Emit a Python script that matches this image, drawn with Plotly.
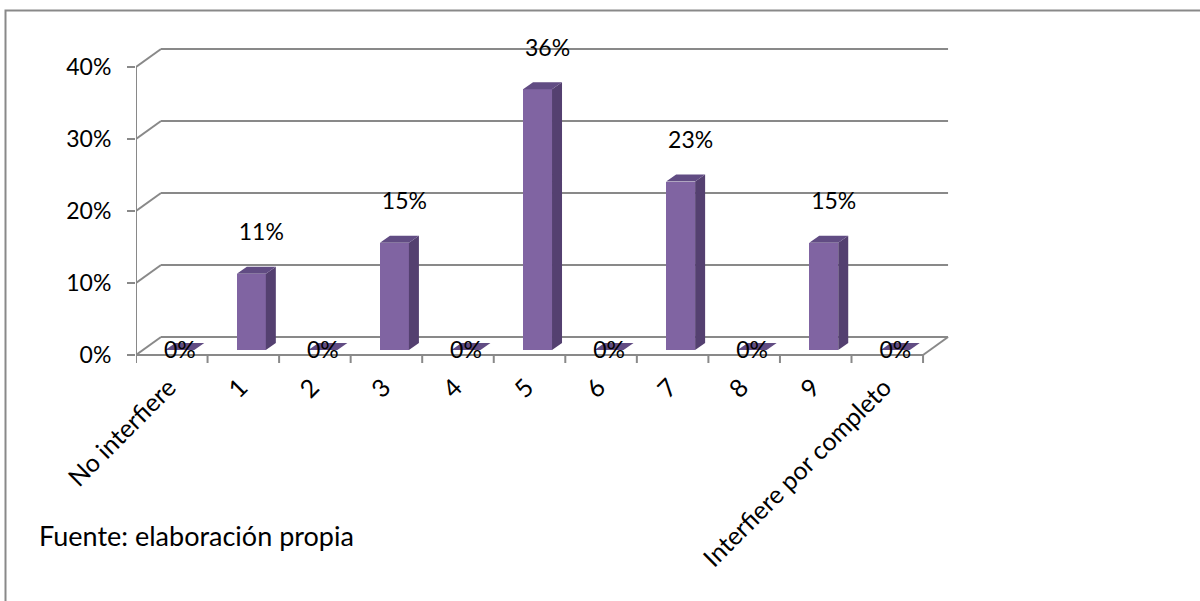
import plotly.graph_objects as go

# ---------------- data ----------------
categories = ["No interfiere", "1", "2", "3", "4", "5", "6", "7", "8", "9",
              "Interfiere por completo"]
shares = [0.0, 0.106, 0.0, 0.149, 0.0, 0.362, 0.0, 0.234, 0.0, 0.149, 0.0]
y_ticks = [0.0, 0.1, 0.2, 0.3, 0.4]
y_tick_labels = ["0%", "10%", "20%", "30%", "40%"]
source_note = "Fuente: elaboración propia"

# ---------------- geometry (pixels -> data units) ----------------
W, H = 1200, 601
L, R, T, B = 136, 1000, 30, 367          # plot area in pixels
PX_X = 71.55                              # pixels per category
PX_V = 720.0                              # pixels per unit share
FLOOR_PX = 355                            # pixel row of value 0 on front plane

def dx(px):
    return px / PX_X

def dv(px):
    return px / PX_V

x_range = [-0.5, -0.5 + dx(R - L)]
y_range = [-dv(B - FLOOR_PX), dv(FLOOR_PX - T)]

DEPTH_X, DEPTH_V = dx(25), dv(18)         # full depth of the 3D box
BAR_OFF_X, BAR_OFF_V = dx(8), dv(5)       # bar front plane offset
BAR_W = dx(29)
BAR_DX, BAR_DV = dx(10), dv(7)            # bar depth

GRID = "#898989"
PURPLE = "#8064A2"
TOP = "#614C83"
SIDE = "#544070"
FONT = "Lato"
FS = 23

fig = go.Figure()

n = len(categories)
xc = [i + BAR_OFF_X for i in range(n)]

# front faces
fig.add_trace(go.Bar(
    x=xc, y=shares, base=[BAR_OFF_V] * n, width=BAR_W,
    marker=dict(color=PURPLE, line=dict(width=0)),
    hoverinfo="skip", showlegend=False))

# side and top faces
sx, sy, tx, ty = [], [], [], []
for i, v in enumerate(shares):
    xl = xc[i] - BAR_W / 2
    xr = xc[i] + BAR_W / 2
    yb = BAR_OFF_V
    yt = BAR_OFF_V + v
    if v > 0:
        sx += [xr, xr + BAR_DX, xr + BAR_DX, xr, xr, None]
        sy += [yb, yb + BAR_DV, yt + BAR_DV, yt, yb, None]
    tx += [xl, xr, xr + BAR_DX, xl + BAR_DX, xl, None]
    ty += [yt, yt, yt + BAR_DV, yt + BAR_DV, yt, None]

fig.add_trace(go.Scatter(x=sx, y=sy, mode="lines", fill="toself",
                         fillcolor=SIDE, line=dict(width=0),
                         hoverinfo="skip", showlegend=False))
fig.add_trace(go.Scatter(x=tx, y=ty, mode="lines", fill="toself",
                         fillcolor=TOP, line=dict(width=0),
                         hoverinfo="skip", showlegend=False))

# data labels
lx, ly, lt = [], [], []
for i, v in enumerate(shares):
    lt.append(f"{round(v * 100)}%")
    if v > 0:
        lx.append(xc[i] + dx(10))
        ly.append(BAR_OFF_V + v + dv(39))
    else:
        lx.append(xc[i])
        ly.append(BAR_OFF_V - dv(2))
fig.add_trace(go.Scatter(x=lx, y=ly, mode="text", text=lt,
                         textposition="middle center",
                         textfont=dict(family=FONT, size=FS, color="#000000"),
                         cliponaxis=False, hoverinfo="skip", showlegend=False))

# ---------------- 3D frame (shapes, behind traces) ----------------
shapes = []
def seg(x0, y0, x1, y1):
    shapes.append(dict(type="line", xref="x", yref="y", x0=x0, y0=y0,
                       x1=x1, y1=y1, layer="below",
                       line=dict(color=GRID, width=2)))

x_lo, x_hi = -0.5, n - 0.5
for v in y_ticks:
    # back wall gridline
    seg(x_lo + DEPTH_X, v + DEPTH_V, x_hi + DEPTH_X, v + DEPTH_V)
    # left wall diagonal
    seg(x_lo, v, x_lo + DEPTH_X, v + DEPTH_V)
# front vertical axis
seg(x_lo, 0, x_lo, y_ticks[-1])
# front floor edge
seg(x_lo, 0, x_hi, 0)
# right floor edge
seg(x_hi, 0, x_hi + DEPTH_X, DEPTH_V)
# x tick marks at category boundaries
for k in range(n + 1):
    b = x_lo + k
    seg(b, 0, b, -dv(8))

# outer chart border
def px_to_paper_x(px):
    return (px - L) / (R - L)

def px_to_paper_y(py):
    return (B - py) / (B - T)

shapes.append(dict(type="rect", xref="paper", yref="paper",
                   x0=px_to_paper_x(5.5), x1=px_to_paper_x(W + 20),
                   y0=px_to_paper_y(10.5), y1=px_to_paper_y(H + 20),
                   line=dict(color=GRID, width=2), layer="below"))

fig.update_layout(
    width=W, height=H,
    margin=dict(l=L, r=W - R, t=T, b=H - B, pad=0),
    paper_bgcolor="white", plot_bgcolor="rgba(0,0,0,0)",
    shapes=shapes,
    showlegend=False,
    bargap=0,
    font=dict(family=FONT, size=FS, color="#000000"),
    annotations=[dict(text=source_note, xref="paper", yref="paper",
                      x=px_to_paper_x(37), y=px_to_paper_y(535),
                      xanchor="left", yanchor="middle", showarrow=False,
                      font=dict(family=FONT, size=27, color="#000000"))],
)
fig.update_xaxes(range=x_range, showgrid=False, zeroline=False,
                 showline=False, ticks="",
                 tickmode="array",
                 tickvals=[i - dx(3) for i in range(n)],
                 ticktext=categories, tickangle=-45,
                 tickfont=dict(family=FONT, size=25, color="#000000"))
fig.update_yaxes(range=y_range, showgrid=False, zeroline=False,
                 showline=False, ticks="outside", ticklen=8, tickwidth=2,
                 tickcolor=GRID, tickmode="array", tickvals=y_ticks,
                 ticktext=y_tick_labels, ticklabelstandoff=11,
                 tickfont=dict(family=FONT, size=FS, color="#000000"))

fig.write_html("out.html")
